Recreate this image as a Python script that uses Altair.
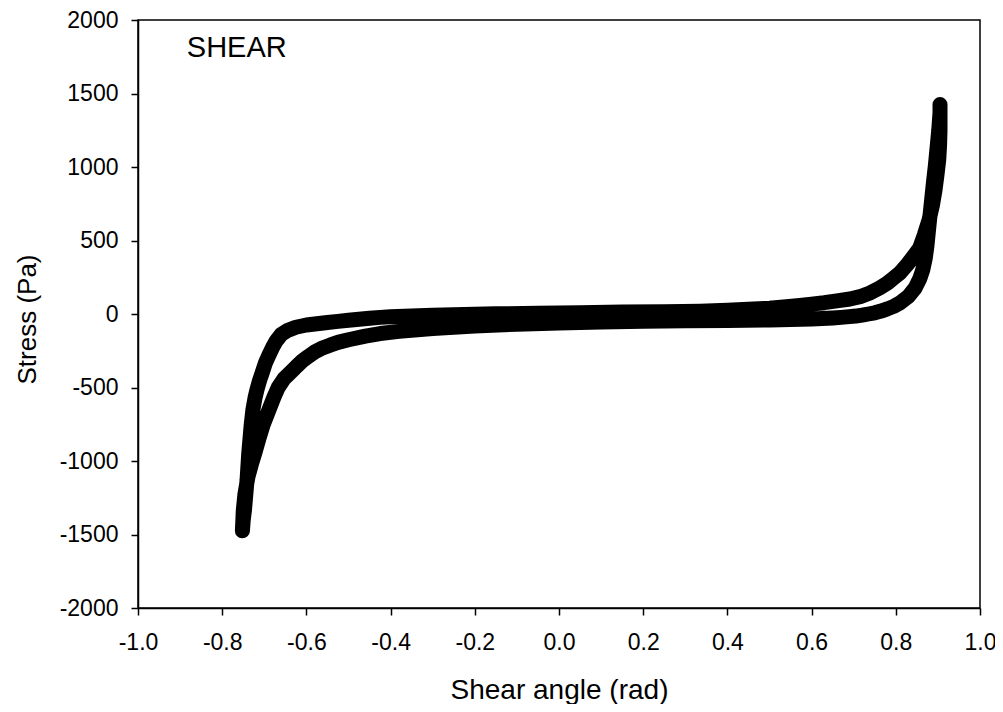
import altair as alt
import pandas as pd

# Upper branch: from the lower-left tip up and across to the upper-right tip
upper_x = [-0.752, -0.750, -0.747, -0.744, -0.741, -0.739, -0.737, -0.734, -0.731, -0.727,
           -0.722, -0.717, -0.711, -0.705, -0.697, -0.689, -0.680, -0.672, -0.660, -0.645,
           -0.625, -0.600, -0.575, -0.550, -0.525, -0.500, -0.475, -0.450, -0.425, -0.400,
           -0.350, -0.300, -0.250, -0.150, -0.050, 0.050, 0.150, 0.250, 0.335, 0.400,
           0.450, 0.500, 0.540, 0.572, 0.600, 0.630, 0.660, 0.691, 0.715, 0.740,
           0.762, 0.780, 0.795, 0.810, 0.828, 0.843, 0.857, 0.868, 0.879, 0.887,
           0.893, 0.898, 0.902, 0.904, 0.905, 0.905, 0.905]
upper_s = [-1475, -1400, -1330, -1230, -1130, -1040, -950, -850, -750, -650,
           -570, -510, -450, -400, -330, -280, -225, -184, -140, -112,
           -90, -75, -66, -58, -50, -43, -36, -29, -23, -19,
           -13, -9, -5, 1, 5, 9, 13, 16, 19, 25,
           32, 40, 49, 58, 67, 77, 89, 102, 118, 145,
           178, 210, 245, 280, 340, 395, 450, 540, 640, 740,
           840, 950, 1050, 1150, 1250, 1350, 1425]

# Lower branch: from the upper-right tip down and back to the lower-left tip
lower_x = [0.905, 0.902, 0.898, 0.894, 0.890, 0.886, 0.882, 0.878, 0.874, 0.870,
           0.864, 0.857, 0.846, 0.830, 0.810, 0.795, 0.780, 0.765, 0.750, 0.735,
           0.720, 0.705, 0.690, 0.670, 0.650, 0.625, 0.600, 0.550, 0.500, 0.400,
           0.300, 0.200, 0.100, 0.000, -0.100, -0.200, -0.300, -0.380, -0.425, -0.460,
           -0.500, -0.525, -0.544, -0.565, -0.580, -0.595, -0.610, -0.623, -0.635, -0.645,
           -0.653, -0.667, -0.677, -0.690, -0.703, -0.713, -0.722, -0.731, -0.739, -0.746,
           -0.750, -0.752]
lower_s = [1370, 1250, 1130, 1010, 910, 800, 690, 580, 465, 380,
           300, 240, 177, 120, 75, 52, 35, 20, 8, 0,
           -8, -14, -18, -23, -27, -31, -34, -38, -41, -44,
           -46, -49, -54, -61, -69, -81, -98, -118, -133, -150,
           -175, -193, -212, -235, -258, -288, -320, -355, -390, -418,
           -440, -500, -565, -660, -755, -850, -940, -1025, -1110, -1225,
           -1340, -1475]

x_ticks = [-1.0, -0.8, -0.6, -0.4, -0.2, 0.0, 0.2, 0.4, 0.6, 0.8, 1.0]
y_ticks = [-2000, -1500, -1000, -500, 0, 500, 1000, 1500, 2000]

note_text = ["SHEAR"]
note_x = [-0.884]
note_y = [1748]

xs = upper_x + lower_x
ss = upper_s + lower_s
df = pd.DataFrame({"angle": xs, "stress": ss, "order": list(range(len(xs)))})
notes = pd.DataFrame({"t": note_text, "x": note_x, "y": note_y})

FONT = "Liberation Sans"

x_enc = alt.X(
    "angle:Q",
    scale=alt.Scale(domain=[-1, 1], nice=False, zero=False),
    axis=alt.Axis(
        values=x_ticks,
        title="Shear angle (rad)",
        labelExpr="replace(format(datum.value, '.1f'), '\u2212', '-')",
        labelPadding=16,
        titleY=90,
        titleBaseline="alphabetic",
        titleFontSize=28,
    ),
)
y_enc = alt.Y(
    "stress:Q",
    scale=alt.Scale(domain=[-2000, 2000], nice=False, zero=False),
    axis=alt.Axis(
        values=y_ticks,
        title="Stress (Pa)",
        labelExpr="replace(format(datum.value, 'd'), '\u2212', '-')",
        labelPadding=13,
        titleX=-103,
        titleY=299,
        titleBaseline="alphabetic",
        titleFontSize=26,
    ),
)

base = alt.Chart(df)

band = base.mark_line(
    color="black", strokeWidth=15, strokeCap="round", strokeJoin="round"
).encode(x=x_enc, y=y_enc, order="order:Q")

dots = base.mark_circle(size=177, color="black", opacity=1).encode(
    x="angle:Q", y="stress:Q"
)

label = alt.Chart(notes).mark_text(
    align="left", baseline="alphabetic", fontSize=29, font=FONT, color="black"
).encode(x="x:Q", y="y:Q", text="t:N")

chart = (
    alt.layer(band, dots, label)
    .properties(
        width=842,
        height=588,
        autosize=alt.AutoSizeParams(type="none"),
        padding={"left": 130, "top": 12, "right": 15, "bottom": 96},
        background="white",
    )
    .configure_view(stroke="black", strokeWidth=1.5)
    .configure_axis(
        grid=False,
        labelFlush=False,
        labelOverlap=False,
        domainColor="black",
        domainWidth=1.5,
        tickColor="black",
        tickWidth=1.5,
        tickSize=7,
        labelFont=FONT,
        labelFontSize=23,
        labelColor="black",
        titleFont=FONT,
        titleFontWeight="normal",
        titleColor="black",
    )
)

chart.save("out.html", embed_options={"renderer": "svg", "actions": False})
